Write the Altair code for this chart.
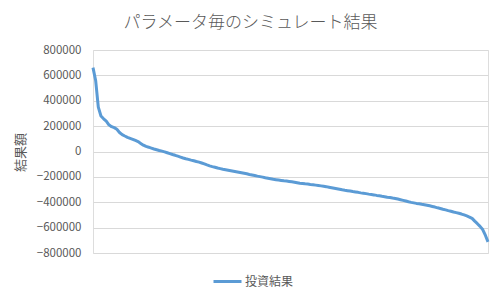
import altair as alt
import pandas as pd

title_text = "パラメータ毎のシミュレート結果"
y_title = "結果額"
series_name = "投資結果"

# sorted simulation results (thousands)
values_k = [
    661, 560, 350, 280, 258, 239, 210, 196, 188, 175,
    150, 133, 122, 112, 104, 96, 87, 78, 64, 50,
    40, 34, 27, 20, 14, 8, 3, -3, -10, -17,
    -24, -30, -37, -44, -51, -57, -62, -68, -73, -79,
    -84, -91, -98, -106, -113, -119, -124, -130, -135, -140,
    -144, -148, -152, -156, -160, -164, -168, -172, -176, -181,
    -185, -189, -194, -198, -202, -207, -211, -215, -219, -222,
    -225, -228, -231, -233, -236, -239, -242, -246, -250, -252,
    -255, -257, -260, -262, -265, -268, -271, -274, -277, -281,
    -285, -289, -293, -297, -302, -306, -309, -312, -316, -319,
    -322, -326, -329, -332, -336, -339, -342, -346, -349, -353,
    -356, -360, -363, -367, -370, -375, -380, -385, -390, -396,
    -401, -405, -409, -412, -416, -419, -423, -428, -433, -438,
    -444, -449, -455, -460, -466, -471, -477, -482, -487, -493,
    -500, -508, -517, -527, -549, -569, -590, -615, -660, -712,
]
y_ticks = [800000, 600000, 400000, 200000, 0, -200000, -400000, -600000, -800000]

df = pd.DataFrame({
    "idx": list(range(len(values_k))),
    "value": [v * 1000 for v in values_k],
    "series": [series_name] * len(values_k),
})

font = "Noto Sans CJK JP"
grey = "#595959"

chart = alt.Chart(df).mark_line(strokeWidth=3, strokeJoin="round").encode(
    x=alt.X("idx:Q", axis=None, scale=alt.Scale(domain=[0, len(values_k) - 1], nice=False, zero=False)),
    y=alt.Y("value:Q",
            scale=alt.Scale(domain=[-800000, 800000], nice=False),
            axis=alt.Axis(values=y_ticks, format="d", title=y_title,
                          titleFont=font, titleFontSize=13, titleFontWeight="normal",
                          titleColor=grey, titleX=-66, titleY=102, titleAngle=270,
                          labelFont=font, labelFontSize=11.5, labelColor=grey, labelPadding=12,
                          domain=False, ticks=False, gridColor="#d9d9d9", gridWidth=1)),
    color=alt.Color("series:N", scale=alt.Scale(range=["#5B9BD5"]),
                    legend=alt.Legend(title=None, orient="none", legendX=119, legendY=216,
                                      symbolType="stroke", symbolSize=784, symbolStrokeWidth=3,
                                      labelFont=font, labelFontSize=12, labelColor=grey,
                                      labelOffset=2)),
).properties(
    width=395,
    height=203,
    title=alt.TitleParams(title_text, font=font, fontSize=17, fontWeight=300, color=grey,
                          anchor="middle", dx=-40, offset=12),
    autosize=alt.AutoSizeParams(type="none"),
    padding={"left": 93, "top": 50, "right": 12, "bottom": 46},
).configure_view(stroke=None).configure(background="white")

chart.save("out.html", embed_options={"renderer": "svg", "actions": False})
